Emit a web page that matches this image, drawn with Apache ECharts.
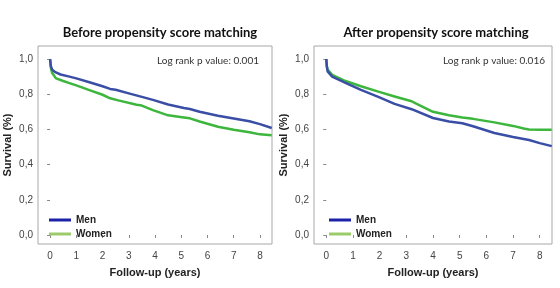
<!DOCTYPE html>
<html>
<head>
<meta charset="utf-8">
<script src="https://cdn.jsdelivr.net/npm/echarts@6/dist/echarts.min.js"></script>
<style>
html, body { margin: 0; padding: 0; background: #fff; }
#myChart { width: 560px; height: 288px; }
</style>
</head>
<body>
<div id="myChart"></div>
<script>
// survival curves (years, survival fraction)
var beforeMenT = [0, 0.03, 0.08, 0.2, 0.4, 0.74, 1.0, 1.5, 2.0, 2.29, 2.5, 3.0, 3.5, 3.92, 4.5, 5.1, 5.33, 5.7, 6.4, 7.0, 7.6, 8.0, 8.45]
var beforeMen  = [1.0, 0.96, 0.94, 0.925, 0.912, 0.90, 0.89, 0.868, 0.845, 0.83, 0.825, 0.805, 0.785, 0.768, 0.742, 0.722, 0.716, 0.70, 0.678, 0.662, 0.646, 0.630, 0.608]
var beforeWomenT = [0, 0.03, 0.08, 0.23, 0.5, 0.74, 1.0, 1.5, 2.0, 2.29, 2.6, 3.3, 3.45, 3.5, 3.92, 4.5, 5.1, 5.33, 5.7, 6.4, 7.0, 7.6, 8.0, 8.45]
var beforeWomen  = [1.0, 0.95, 0.92, 0.89, 0.875, 0.863, 0.85, 0.823, 0.797, 0.777, 0.765, 0.74, 0.738, 0.728, 0.71, 0.68, 0.668, 0.663, 0.645, 0.615, 0.598, 0.584, 0.572, 0.567]

var afterMenT = [0, 0.02, 0.05, 0.22, 0.72, 1.3, 1.95, 2.56, 3.2, 4.0, 4.6, 5.1, 5.5, 6.3, 7.0, 7.6, 8.0, 8.45]
var afterMen  = [1.0, 0.96, 0.93, 0.90, 0.865, 0.825, 0.785, 0.745, 0.715, 0.665, 0.645, 0.635, 0.618, 0.58, 0.557, 0.54, 0.522, 0.505]
var afterWomenT = [0, 0.02, 0.05, 0.22, 0.72, 1.3, 1.95, 2.56, 3.2, 3.35, 4.0, 4.6, 5.1, 5.5, 6.3, 7.0, 7.4, 7.6, 8.0, 8.45]
var afterWomen  = [1.0, 0.96, 0.94, 0.91, 0.875, 0.845, 0.815, 0.787, 0.76, 0.748, 0.70, 0.68, 0.668, 0.66, 0.64, 0.62, 0.605, 0.60, 0.598, 0.598]

var xTicks = [0, 1, 2, 3, 4, 5, 6, 7, 8]
var yTicks = [0, 0.2, 0.4, 0.6, 0.8, 1.0]
var titles = ['Before propensity score matching', 'After propensity score matching']
var pValues = ['Log rank p value: 0.001', 'Log rank p value: 0.016']

function pairs (t, v) {
  var out = []
  for (var i = 0; i < t.length; i++) {
    out.push([t[i], v[i]])
  }
  return out
}

var sans = 'Liberation Sans'

var grids = [
  { left: 38, top: 46, width: 234, height: 198 },
  { left: 314, top: 46, width: 238, height: 198 }
]

function makeX (idx) {
  return {
    type: 'value',
    gridIndex: idx,
    min: -0.46,
    max: 8.46,
    name: 'Follow-up (years)',
    nameLocation: 'middle',
    nameGap: 23,
    nameTextStyle: { fontFamily: sans, fontWeight: 'bold', fontSize: 11, color: '#222' },
    axisLine: { show: false },
    axisTick: { show: true, customValues: xTicks, length: 3, lineStyle: { color: '#888' } },
    axisLabel: { customValues: xTicks, margin: 7, fontFamily: sans, fontSize: 10, color: '#444' },
    splitLine: { show: false }
  }
}

function makeY (idx) {
  return {
    type: 'value',
    gridIndex: idx,
    min: -0.051,
    max: 1.074,
    name: 'Survival (%)',
    nameLocation: 'middle',
    nameGap: 25,
    nameTextStyle: { fontFamily: sans, fontWeight: 'bold', fontSize: 11, color: '#222' },
    axisLine: { show: false },
    axisTick: { show: true, customValues: yTicks, length: 3, lineStyle: { color: '#888' } },
    axisLabel: {
      customValues: yTicks,
      margin: 5,
      fontFamily: sans,
      fontSize: 10,
      color: '#444',
      formatter: function (v) { return v.toFixed(1).replace('.', ',') }
    },
    splitLine: { show: false }
  }
}

function makeLegend (left) {
  return {
    orient: 'vertical',
    left: left,
    top: 210,
    itemWidth: 22,
    itemHeight: 3,
    itemGap: 4,
    icon: 'rect',
    selectedMode: false,
    textStyle: { fontFamily: sans, fontWeight: 'bold', fontSize: 10, color: '#222' },
    data: [
      { name: 'Men', itemStyle: { color: '#1c22a8' } },
      { name: 'Women', itemStyle: { color: '#9ccc6a' } }
    ]
  }
}

var blue = '#3a4ea6'
var green = '#3cb63c'

function line (name, idx, t, v, color) {
  return {
    name: name,
    type: 'line',
    xAxisIndex: idx,
    yAxisIndex: idx,
    data: pairs(t, v),
    showSymbol: false,
    smooth: false,
    lineStyle: { color: color, width: 2.5 },
    itemStyle: { color: color },
    z: name === 'Men' ? 3 : 2
  }
}

var option = {
  animation: false,
  backgroundColor: '#fff',
  title: [
    { text: titles[0], left: 155, top: 21, textAlign: 'center',
      textStyle: { fontFamily: 'Lato', fontWeight: 'bold', fontSize: 13, color: '#111' } },
    { text: titles[1], left: 431, top: 21, textAlign: 'center',
      textStyle: { fontFamily: 'Lato', fontWeight: 'bold', fontSize: 13, color: '#111' } },
    { text: pValues[0], right: 296, top: 51,
      textStyle: { fontFamily: 'Lato', fontWeight: 'normal', fontSize: 10, color: '#333' } },
    { text: pValues[1], right: 10, top: 51,
      textStyle: { fontFamily: 'Lato', fontWeight: 'normal', fontSize: 10, color: '#333' } }
  ],
  grid: grids.map(function (g) {
    return Object.assign({ show: true, borderColor: '#a8a8a8', borderWidth: 1, backgroundColor: '#fff' }, g)
  }),
  xAxis: [makeX(0), makeX(1)],
  yAxis: [makeY(0), makeY(1)],
  legend: [makeLegend(44), makeLegend(324)],
  series: [
    line('Men', 0, beforeMenT, beforeMen, blue),
    line('Women', 0, beforeWomenT, beforeWomen, green),
    line('Men', 1, afterMenT, afterMen, blue),
    line('Women', 1, afterWomenT, afterWomen, green)
  ]
}

var myChart = echarts.init(document.getElementById('myChart'))
myChart.setOption(option)
</script>
</body>
</html>
